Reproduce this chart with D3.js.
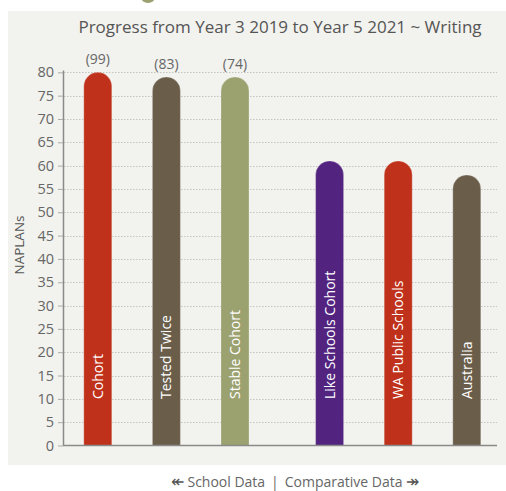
<!DOCTYPE html>
<html>
<head>
<meta charset="utf-8">
<script src="https://cdn.jsdelivr.net/npm/d3@7"></script>
<style>
  html, body { margin: 0; padding: 0; background: #ffffff; }
  svg { display: block; font-family: "Open Sans", "Noto Sans", sans-serif; }
</style>
</head>
<body>
<svg id="chart" width="506" height="491"></svg>
<script>
// Progress from Year 3 2019 to Year 5 2021 ~ Writing
const categories = ["Cohort", "Tested Twice", "Stable Cohort", "Like Schools Cohort", "WA Public Schools", "Australia"];
const groups = ["school", "school", "school", "comparative", "comparative", "comparative"];
const values = [80, 79, 79, 61, 61, 58];
const counts = ["(99)", "(83)", "(74)", null, null, null];
const colors = ["#bf311a", "#6a5e4b", "#9ca170", "#52237f", "#bf311a", "#6a5e4b"];
const yTicks = [0, 5, 10, 15, 20, 25, 30, 35, 40, 45, 50, 55, 60, 65, 70, 75, 80];

(function () {
  const svg = d3.select("#chart");

  // small heading marker above the panel
  svg.append("ellipse").attr("cx", 148).attr("cy", -3).attr("rx", 7).attr("ry", 6).attr("fill", "#9ca170");

  // panel background
  svg.append("rect").attr("x", 8).attr("y", 11).attr("width", 498).attr("height", 454).attr("fill", "#f2f2ee");

  const plotLeft = 63, plotRight = 497, plotBottom = 445.5, plotTop = 70;
  const groupGap = 26;
  const barW = 28;

  const y = d3.scaleLinear().domain([0, 80.5]).range([plotBottom, plotTop]);
  const x = d3.scalePoint().domain(categories).range([97.8, 440.8]);
  const cx = (c, i) => x(c) + (groups[i] === "comparative" ? groupGap : 0);

  // dotted gridlines
  svg.append("g").selectAll("line").data(yTicks.filter(t => t > 0)).join("line")
    .attr("x1", plotLeft + 1).attr("x2", plotRight)
    .attr("y1", d => Math.round(y(d)) + 0.5).attr("y2", d => Math.round(y(d)) + 0.5)
    .attr("stroke", "#c4c4c0").attr("stroke-width", 1).attr("stroke-dasharray", "1.5,1.5");

  // title
  svg.append("text").attr("x", 280).attr("y", 33).attr("text-anchor", "middle")
    .attr("font-size", 17).attr("fill", "#555").text("Progress from Year 3 2019 to Year 5 2021 ~ Writing");

  // y axis
  const yAxis = d3.axisLeft(y).tickValues(yTicks).tickSize(5).tickSizeOuter(0).tickPadding(4);
  const gy = svg.append("g").attr("transform", `translate(${plotLeft},0)`).call(yAxis);
  gy.select(".domain").attr("stroke", "#8a8a8a").attr("stroke-width", 1.5);
  gy.selectAll(".tick line").attr("stroke", "#aaa");
  gy.selectAll(".tick text").attr("font-size", 14.5).attr("fill", "#666").attr("font-family", "Open Sans, sans-serif");

  // axis title
  svg.append("text").attr("transform", "translate(24,245) rotate(-90)").attr("text-anchor", "middle")
    .attr("font-size", 13.5).attr("fill", "#555").text("NAPLANs");

  // bars with rounded tops
  const r = barW / 2;
  const barPath = (c, i) => {
    const xc = cx(c, i), yt = y(values[i]);
    return `M${xc - r},${plotBottom} L${xc - r},${yt + r} A${r},${r} 0 0 1 ${xc + r},${yt + r} L${xc + r},${plotBottom} Z`;
  };
  svg.append("g").selectAll("path").data(categories).join("path")
    .attr("d", (c, i) => barPath(c, i))
    .attr("fill", (c, i) => colors[i])
    .attr("stroke", "rgba(255,255,255,0.25)").attr("stroke-width", 1);

  // x axis baseline
  svg.append("line").attr("x1", plotLeft).attr("x2", plotRight).attr("y1", plotBottom).attr("y2", plotBottom)
    .attr("stroke", "#8a8a8a").attr("stroke-width", 1.5);

  // category names inside bars
  svg.append("g").selectAll("text").data(categories).join("text")
    .attr("transform", (c, i) => `translate(${cx(c, i) + 5},399) rotate(-90)`)
    .attr("font-size", 14).attr("fill", "#fff").text(c => c);

  // student counts above school bars
  svg.append("g").selectAll("text").data(categories.filter((c, i) => counts[i])).join("text")
    .attr("x", c => cx(c, categories.indexOf(c)))
    .attr("y", c => y(values[categories.indexOf(c)]) - 8)
    .attr("text-anchor", "middle").attr("font-size", 14).attr("fill", "#666")
    .text(c => counts[categories.indexOf(c)]);

  // group footer
  const footer = svg.append("text").attr("x", 295).attr("y", 487).attr("text-anchor", "middle")
    .attr("font-size", 14).attr("fill", "#666");
  footer.append("tspan").attr("font-size", 16).attr("fill", "#555").text("\u219E");
  footer.append("tspan").text(" School Data  \u2009|\u2009  Comparative Data ");
  footer.append("tspan").attr("font-size", 16).attr("fill", "#555").text("\u21A0");
})();
</script>
</body>
</html>
